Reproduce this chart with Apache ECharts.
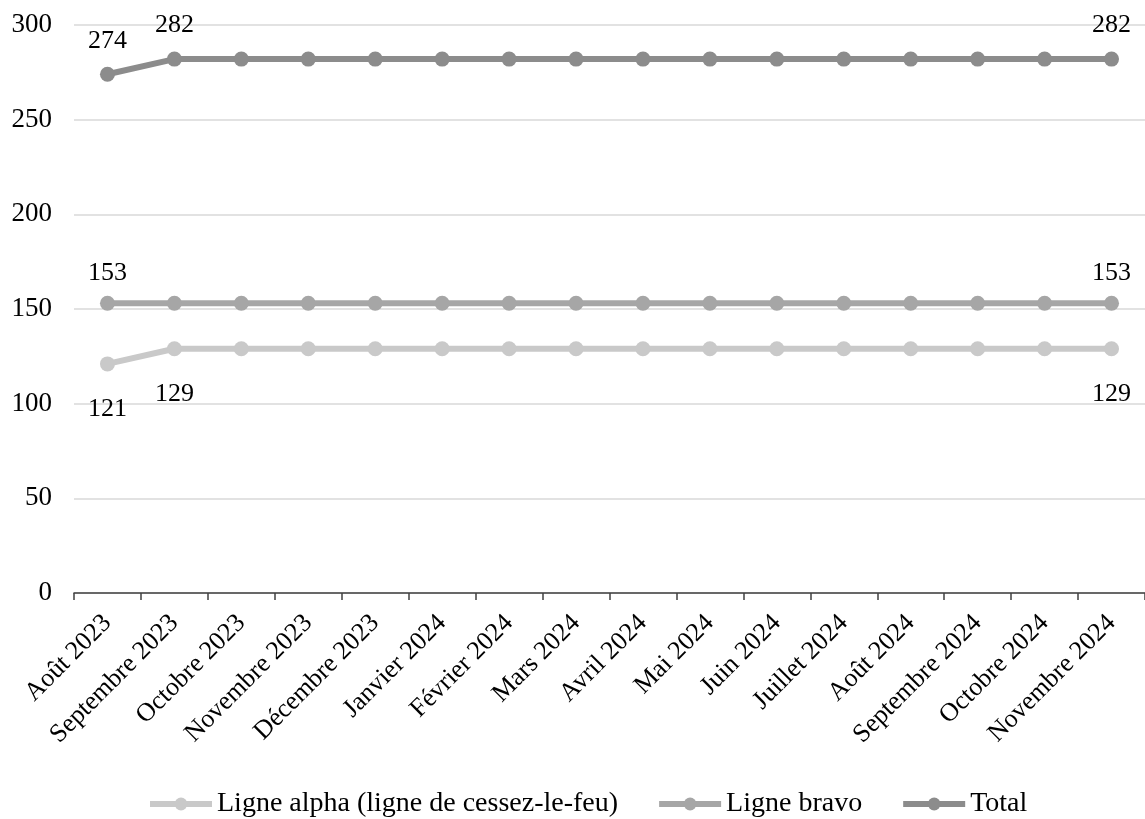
<!DOCTYPE html>
<html><head><meta charset="utf-8">
<script src="https://cdn.jsdelivr.net/npm/echarts@6/dist/echarts.min.js"></script>
<style>html,body{margin:0;padding:0;background:#fff}#c{width:1145px;height:819px}</style>
</head><body><div id="c"></div>
<script>
const categories = ["Août 2023","Septembre 2023","Octobre 2023","Novembre 2023","Décembre 2023","Janvier 2024","Février 2024","Mars 2024","Avril 2024","Mai 2024","Juin 2024","Juillet 2024","Août 2024","Septembre 2024","Octobre 2024","Novembre 2024"];
const alpha = [121,129,129,129,129,129,129,129,129,129,129,129,129,129,129,129];
const bravo = [153,153,153,153,153,153,153,153,153,153,153,153,153,153,153,153];
const total = [274,282,282,282,282,282,282,282,282,282,282,282,282,282,282,282];
const alphaLabelIdx = [0,1,15];
const bravoLabelIdx = [0,15];
const totalLabelIdx = [0,1,15];
const names = ["Ligne alpha (ligne de cessez-le-feu)","Ligne bravo","Total"];
const colors = ["#c9c9c9","#a6a6a6","#8c8c8c"];
const FONT = "Liberation Serif";

function mk(vals, idx, pos, dist){
  return vals.map((v,i)=> idx.includes(i) ? {value:v,label:{show:true,position:pos,distance:dist}} : v);
}
const chart = echarts.init(document.getElementById('c'));
const cfg = [[alpha,alphaLabelIdx,'bottom',25],[bravo,bravoLabelIdx,'top',10],[total,totalLabelIdx,'top',13]];
const series = cfg.map((s,k)=>({
  name:names[k], type:'line', data:mk(s[0],s[1],s[2],s[3]),
  symbol:'circle', symbolSize:15, lineStyle:{width:6,color:colors[k]}, itemStyle:{color:colors[k]},
  label:{show:false,fontFamily:FONT,fontSize:26,color:'#000'}, z:k+2, animation:false
}));
chart.setOption({
  animation:false,
  textStyle:{fontFamily:FONT},
  grid:{left:74,top:25,width:1078,height:568,containLabel:false},
  legend:{top:785,left:142,itemWidth:62,itemHeight:16,itemGap:38,
    lineStyle:{width:6},
    textStyle:{fontFamily:FONT,fontSize:28,color:'#000'},data:names},
  xAxis:{type:'category',data:categories,boundaryGap:true,
    axisLine:{lineStyle:{color:'#404040',width:1.5}},
    axisTick:{show:true,alignWithLabel:false,length:7,lineStyle:{color:'#404040',width:1.5}},
    axisLabel:{rotate:45,fontFamily:FONT,fontSize:26,color:'#000',margin:26,interval:0}},
  yAxis:{type:'value',min:0,max:300,interval:50,
    axisLine:{show:false},axisTick:{show:false},
    splitLine:{lineStyle:{color:'#d9d9d9',width:1.5}},
    axisLabel:{fontFamily:FONT,fontSize:27,color:'#000',margin:22}},
  series
});
</script></body></html>
